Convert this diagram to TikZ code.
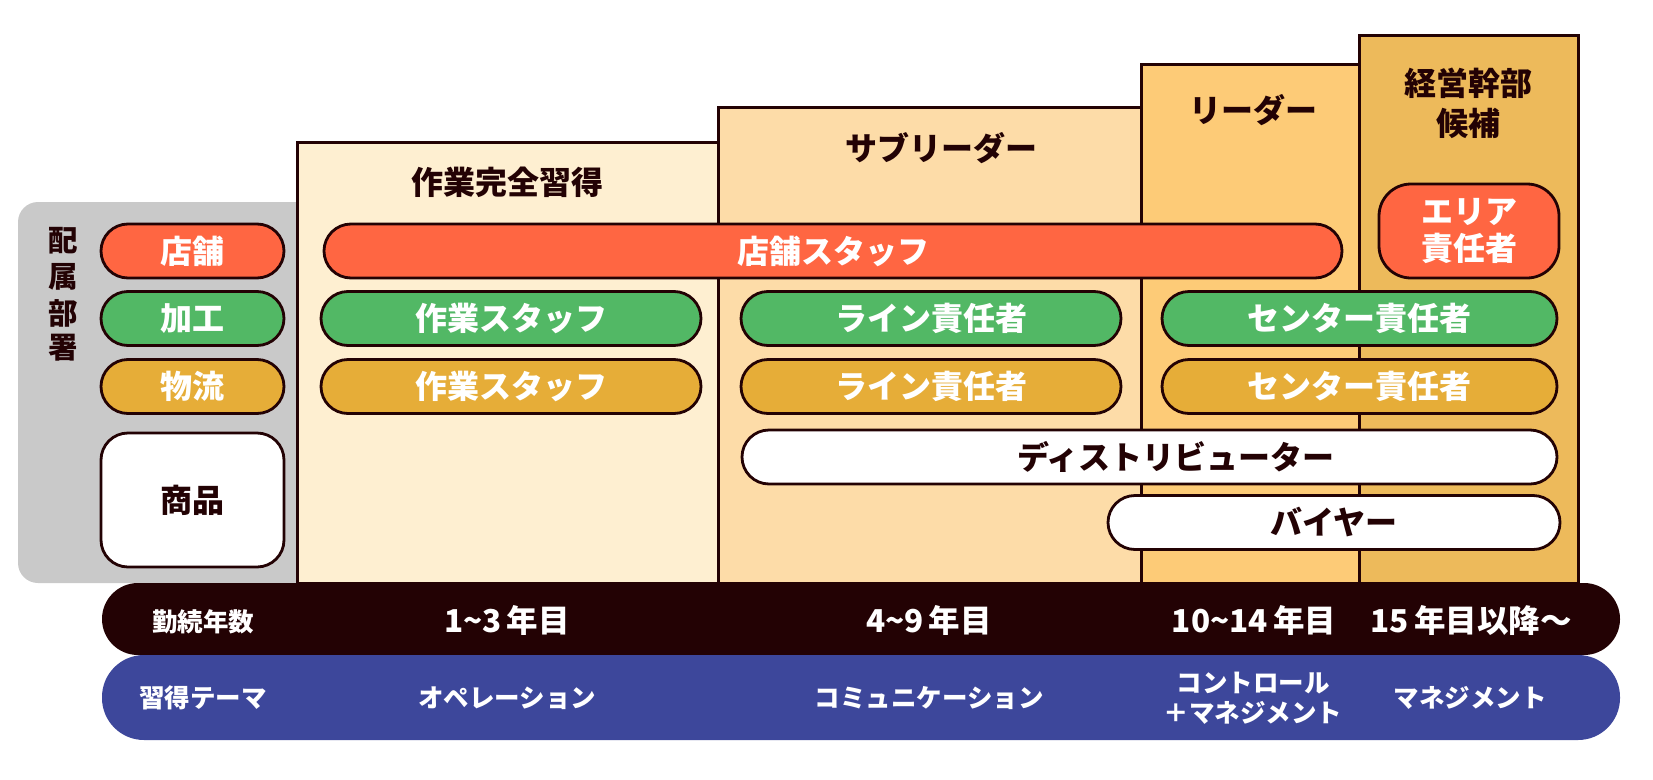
\documentclass[tikz,border=0pt]{standalone}
\usepackage{fontspec}
\setmainfont{Noto Sans CJK JP}
\definecolor{ink}{HTML}{230204}
\definecolor{panelgray}{HTML}{C9C9C9}
\definecolor{colA}{HTML}{FEEFD1}
\definecolor{colB}{HTML}{FDDCA8}
\definecolor{colC}{HTML}{FDCB77}
\definecolor{colD}{HTML}{EDBA5B}
\definecolor{shopred}{HTML}{FF6642}
\definecolor{procgreen}{HTML}{52B865}
\definecolor{logiorange}{HTML}{E6AD38}
\definecolor{bandblue}{HTML}{3D479B}
\newcommand{\fs}[1]{\fontsize{#1}{#1}\selectfont\bfseries}
\tikzset{
  colbox/.style={draw=ink, line width=3pt},
  pill/.style={draw=ink, line width=2.8pt, rounded corners=27pt, inner sep=0pt,
    minimum height=54pt, text=white, font=\fs{32}},
  wpill/.style={pill, fill=white, text=ink},
  coltitle/.style={text=ink, font=\fs{32}, inner sep=0pt, align=center},
  bandtext/.style={text=white, font=\fs{31.5}, inner sep=0pt, align=center},
  themetext/.style={text=white, font=\fs{25.5}, inner sep=0pt, align=center},
  vlabel/.style={text=ink, font=\fs{29.5}, inner sep=0pt}
}
\begin{document}
\begin{tikzpicture}[x=1pt,y=-1pt]
\useasboundingbox (0,0) rectangle (1653,779);
% gray department panel
\fill[panelgray, rounded corners=20pt] (18,202) rectangle (330,583);
% stage columns
\filldraw[colbox, fill=colA] (297,142) rectangle (718,583);
\filldraw[colbox, fill=colB] (718,107) rectangle (1141,583);
\filldraw[colbox, fill=colC] (1141,64) rectangle (1359,583);
\filldraw[colbox, fill=colD] (1359,35) rectangle (1578,583);
% column titles
\node[coltitle] (t1) at (507,182) {作業完全習得};
\node[coltitle] (t2) at (941,148) {サブリーダー};
\node[coltitle] (t3) at (1253,110) {リーダー};
\node[coltitle, font=\fontsize{32}{40}\selectfont\bfseries] (t4) at (1468,103) {経営幹部\\候補};
% vertical label
\node[vlabel] (v1) at (63,241) {配};
\node[vlabel] (v2) at (63,277) {属};
\node[vlabel] (v3) at (63,313) {部};
\node[vlabel] (v4) at (63,348) {署};
% department pills
\node[pill, fill=shopred, minimum width=183pt] (dshop) at (192.5,251) {店舗};
\node[pill, fill=procgreen, minimum width=183pt] (dproc) at (192.5,318.5) {加工};
\node[pill, fill=logiorange, minimum width=183pt] (dlogi) at (192.5,386.5) {物流};
\node[wpill, minimum width=183pt, minimum height=134pt] (dgoods) at (192.5,500) {商品};
% shop row
\node[pill, fill=shopred, minimum width=1018pt] (shopstaff) at (833,251) {店舗スタッフ};
\node[pill, fill=shopred, minimum width=180pt, minimum height=94pt, rounded corners=32pt,
      align=center, font=\fontsize{32}{37}\selectfont\bfseries] (area) at (1469,231) {エリア\\責任者};
% processing row
\node[pill, fill=procgreen, minimum width=380pt] (pstaff) at (511,318.5) {作業スタッフ};
\node[pill, fill=procgreen, minimum width=380pt] (pline) at (931,318.5) {ライン責任者};
\node[pill, fill=procgreen, minimum width=395pt] (pcenter) at (1359.5,318.5) {センター責任者};
% logistics row
\node[pill, fill=logiorange, minimum width=380pt] (lstaff) at (511,386.5) {作業スタッフ};
\node[pill, fill=logiorange, minimum width=380pt] (lline) at (931,386.5) {ライン責任者};
\node[pill, fill=logiorange, minimum width=395pt] (lcenter) at (1359.5,386.5) {センター責任者};
% goods rows
\node[wpill, minimum width=815pt] (dist) at (1149.5,457) {};
\node[coltitle] (disttext) at (1176,457) {ディストリビューター};
\node[wpill, minimum width=452pt] (buyer) at (1334,522.5) {バイヤー};
% bottom bands
\fill[ink, rounded corners=36pt] (102,583) rectangle (1620,655);
\fill[bandblue, rounded corners=42pt] (102,655) rectangle (1620,740);
\node[themetext] (yl) at (203,622) {勤続年数};
\node[bandtext] (y1) at (507,620) {1\textasciitilde3\,年目};
\node[bandtext] (y2) at (929,620) {4\textasciitilde9\,年目};
\node[bandtext] (y3) at (1254,620) {10\textasciitilde14\,年目};
\node[bandtext] (y4) at (1471,620) {15\,年目以降〜};
\node[themetext] (hl) at (203,698) {習得テーマ};
\node[themetext] (h1) at (507,698) {オペレーション};
\node[themetext] (h2) at (929,698) {コミュニケーション};
\node[themetext, font=\fontsize{25.5}{30}\selectfont\bfseries] (h3) at (1253,698) {コントロール\\＋マネジメント};
\node[themetext] (h4) at (1470,698) {マネジメント};
\end{tikzpicture}
\end{document}
